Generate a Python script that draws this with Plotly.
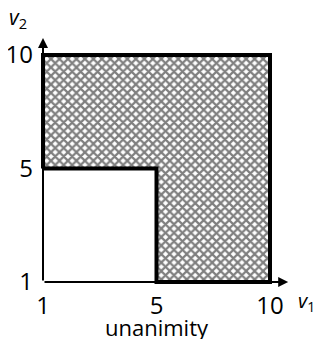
import plotly.graph_objects as go

# Data
tick_values = ["1", "5", "10"]            # ordinal axis categories for v1 and v2
region_v1 = ["1", "1", "10", "10", "5", "5", "1"]   # L-shaped unanimity region
region_v2 = ["5", "10", "10", "1", "1", "5", "5"]
x_label = "<i>v</i><sub>1</sub>"
y_label = "<i>v</i><sub>2</sub>"
caption = "unanimity"

FONT = "Open Sans"
W, H = 316, 331          # page body has an 8px margin
ML, MB = 26, 50
PW, PH = W - ML, H - MB

fig = go.Figure()

fig.add_trace(go.Scatter(
    x=region_v1, y=region_v2, mode="lines", fill="toself",
    fillcolor="white",
    fillpattern=dict(shape="x", size=6, solidity=0.6, fgcolor="black", bgcolor="white"),
    line=dict(color="black", width=4),
    hoverinfo="skip", showlegend=False,
))

# Axis arrows (from origin category index 0)
fig.add_annotation(x=2.16, y=0, ax=0, ay=0, xref="x", yref="y", axref="x", ayref="y",
                   showarrow=True, arrowhead=2, arrowsize=1, arrowwidth=2,
                   arrowcolor="black", text="")
fig.add_annotation(x=0, y=2.15, ax=0, ay=0, xref="x", yref="y", axref="x", ayref="y",
                   showarrow=True, arrowhead=2, arrowsize=1, arrowwidth=2,
                   arrowcolor="black", text="")

fig.add_annotation(x=(289 - ML) / PW, y=-(293 - PH) / PH, xref="paper", yref="paper",
                   xanchor="left", yanchor="middle", borderpad=0,
                   text=x_label, showarrow=False,
                   font=dict(family=FONT, size=20, color="black"))
fig.add_annotation(x=(0 - ML) / PW, y=(PH - 10) / PH, xref="paper", yref="paper",
                   xanchor="left", yanchor="middle", borderpad=0,
                   text=y_label, showarrow=False,
                   font=dict(family=FONT, size=21, color="black"))
fig.add_annotation(x=1, y=-(319 - PH) / PH, xref="x", yref="paper",
                   xanchor="center", yanchor="middle",
                   text=caption, showarrow=False,
                   font=dict(family=FONT, size=22, color="black"))

fig.update_layout(
    width=W, height=H,
    margin=dict(l=ML, r=0, t=0, b=MB, pad=0, autoexpand=False),
    plot_bgcolor="white", paper_bgcolor="white",
    xaxis=dict(type="category", categoryorder="array", categoryarray=tick_values,
               range=[-(35 - ML) / 113.5, (W - 35) / 113.5], showgrid=False,
               zeroline=False, showline=False,
               ticks="", tickfont=dict(family=FONT, size=24, color="black"),
               ticklabelstandoff=0, automargin=False),
    yaxis=dict(type="category", categoryorder="array", categoryarray=tick_values,
               range=[-(PH - 274) / 113.5, 274 / 113.5], showgrid=False,
               zeroline=False, showline=False,
               ticks="", tickfont=dict(family=FONT, size=24, color="black"),
               ticklabelstandoff=0, automargin=False),
)

fig.write_html("out.html")
